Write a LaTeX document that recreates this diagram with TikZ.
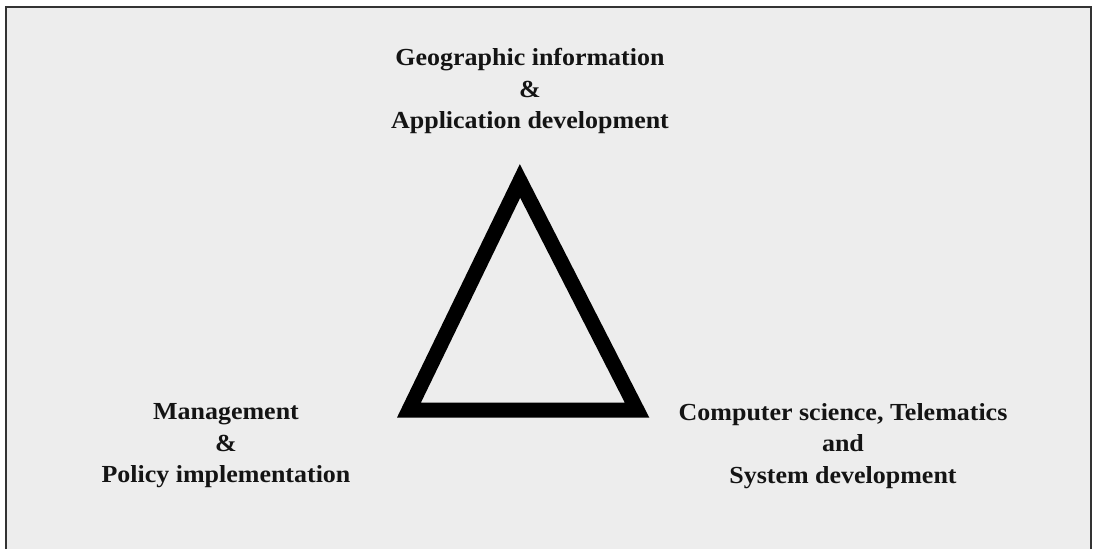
\documentclass[tikz,border=0pt]{standalone}
\usepackage{fontspec}
\setmainfont{Liberation Serif}
\begin{document}
\begin{tikzpicture}[x=1pt,y=-1pt,
  label/.style={font=\bfseries\fontsize{24.5}{31.5}\selectfont, align=center, text=black!92, inner sep=0pt, xscale=1.06},
  frame/.style={draw=black!80, line width=2pt},
  edge/.style={draw=black, line width=15pt, line join=miter}]
  \useasboundingbox (0,0) rectangle (1095,549);
  % page background and open frame
  \fill[white] (0,0) rectangle (1095,549);
  \fill[black!7] (6,7) rectangle (1091,549);
  \draw[frame] (6,549) -- (6,7) -- (1091,7) -- (1091,549);
  % triangle corners
  \coordinate (top) at (520,181);
  \coordinate (bl) at (409,410);
  \coordinate (br) at (637,410);
  \draw[edge] (top) -- (bl) -- (br) -- cycle;
  % labels
  \node[label] (geo) at (530,91) {Geographic information\\\&\\Application development};
  \node[label] (mgmt) at (226,446) {Management\\\&\\Policy implementation};
  \node[label] (cs) at (843,446) {Computer science, Telematics\\and\\System development};
\end{tikzpicture}
\end{document}
